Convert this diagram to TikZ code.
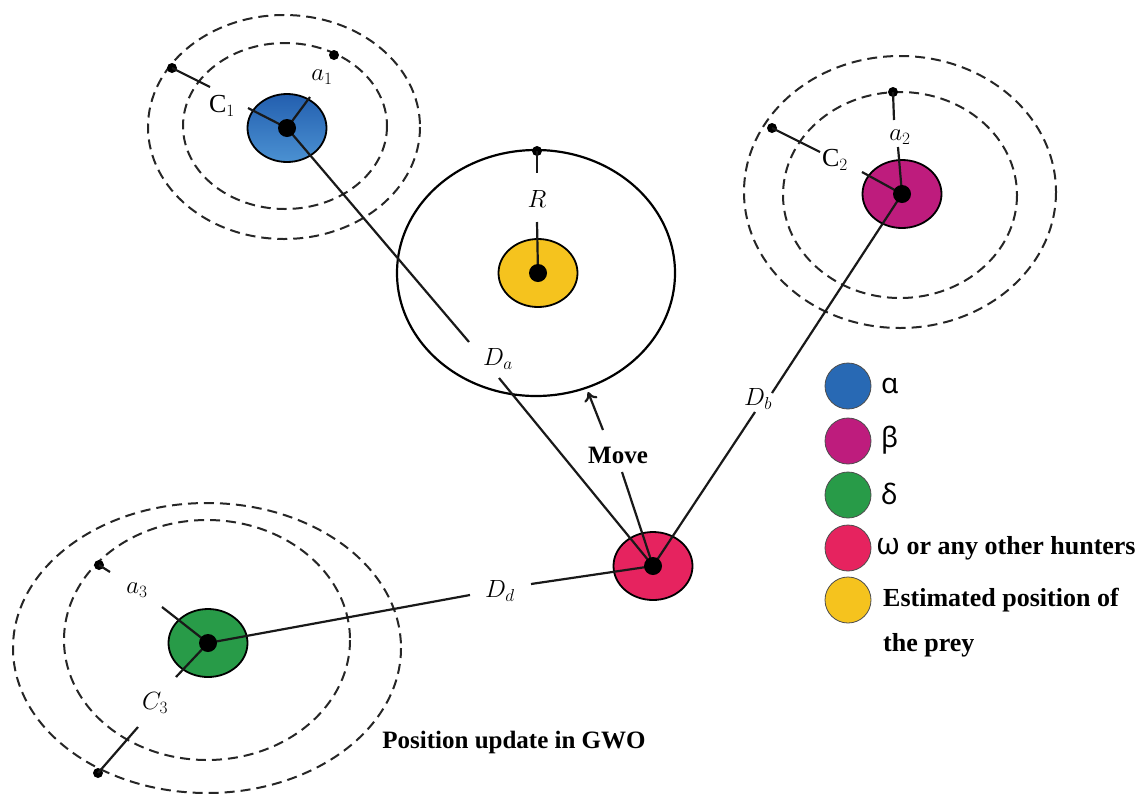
\documentclass[tikz,border=0pt]{standalone}
\usepackage{fontspec}
\setmainfont{Liberation Serif}
\newfontfamily\greekfont{Noto Sans}
\usetikzlibrary{shapes.geometric,arrows.meta}
\definecolor{alphaTop}{RGB}{35,95,175}
\definecolor{alphaBot}{RGB}{75,145,210}
\definecolor{alphaC}{RGB}{40,105,180}
\definecolor{betaC}{RGB}{190,28,125}
\definecolor{deltaC}{RGB}{40,155,72}
\definecolor{omegaC}{RGB}{230,35,95}
\definecolor{preyC}{RGB}{245,195,30}
\tikzset{
  wolf/.style={ellipse, draw=black, line width=1.8pt, minimum width=79pt, minimum height=68pt, inner sep=0pt},
  cdot/.style={circle, fill=black, minimum size=18pt, inner sep=0pt},
  odot/.style={circle, fill=black, minimum size=10pt, inner sep=0pt},
  orbit/.style={draw=black!85, line width=2pt, dash pattern=on 10pt off 6pt},
  conn/.style={draw=black!90, line width=2.2pt},
  mlabel/.style={inner sep=0pt, font=\fontsize{26}{28}\selectfont},
  blabel/.style={inner sep=0pt, font=\bfseries\fontsize{25}{28}\selectfont},
  legc/.style={circle, draw=black!70, line width=0.8pt, minimum size=46pt, inner sep=0pt},
  legt/.style={anchor=west, inner sep=0pt, font=\bfseries\fontsize{26}{28}\selectfont},
  legg/.style={anchor=west, inner sep=0pt, font=\greekfont\fontsize{28}{30}\selectfont}
}
\begin{document}
\begin{tikzpicture}[x=1pt,y=-1pt]
\useasboundingbox (0,0) rectangle (1145,801);
% orbits
\draw[orbit] (284,127) ellipse [x radius=136, y radius=112];
\draw[orbit] (285,126) ellipse [x radius=102, y radius=83];
\draw[orbit] (900,192) ellipse [x radius=156, y radius=136];
\draw[orbit] (900,195) ellipse [x radius=117, y radius=103];
\draw[orbit] (207,648) ellipse [x radius=194, y radius=145];
\draw[orbit] (207,640) ellipse [x radius=143, y radius=120];
% prey region
\draw[line width=2.2pt] (536,273) ellipse [x radius=139, y radius=123];
% wolves
\node[wolf, top color=alphaTop, bottom color=alphaBot] (alpha) at (287,128) {};
\node[wolf, fill=betaC] (beta) at (902,194) {};
\node[wolf, fill=deltaC] (delta) at (208,643) {};
\node[wolf, fill=omegaC] (omega) at (653,566) {};
\node[wolf, fill=preyC] (prey) at (538,273) {};
% orbit points
\node[odot] (p1o) at (172,68) {};
\node[odot] (p1i) at (334,55) {};
\node[odot] (p2o) at (772,128) {};
\node[odot] (p2i) at (893,92) {};
\node[odot] (p3i) at (99,565) {};
\node[odot] (p3o) at (98,773) {};
\node[odot] (pR) at (537,151) {};
% labels
\node[mlabel] (C1) at (222,106) {$\mathrm{C}_1$};
\node[mlabel] (a1) at (322,77) {$a_1$};
\node[mlabel] (C2) at (835,160) {$\mathrm{C}_2$};
\node[mlabel] (a2) at (900,137) {$a_2$};
\node[mlabel] (a3) at (137,590) {$a_3$};
\node[mlabel] (C3) at (155,703) {$C_3$};
\node[mlabel] (R) at (537,199) {$R$};
\node[mlabel] (Da) at (498,359) {$D_a$};
\node[mlabel] (Db) at (758,399) {$D_b$};
\node[mlabel] (Dd) at (500,591) {$D_d$};
\node[blabel] (move) at (618,455) {Move};
\node[blabel] (title) at (514,742) {Position update in GWO};
% break coordinates
\coordinate (c1e) at (248,108);
\coordinate (a1e) at (310,97);
\coordinate (c1o) at (210,87);
\coordinate (c2e) at (862,172);
\coordinate (a2e) at (898,147);
\coordinate (c2o) at (820,152);
\coordinate (a2o) at (894,120);
\coordinate (a3e) at (162,607);
\coordinate (c3e) at (176,677);
\coordinate (a3t) at (110,572);
\coordinate (c3t) at (138,727);
\coordinate (Re) at (537,222);
\coordinate (Ro) at (537,173);
\coordinate (da1) at (469,342);
\coordinate (da2) at (499,378);
\coordinate (db1) at (772,393);
\coordinate (db2) at (755,412);
\coordinate (dd1) at (470,595);
\coordinate (dd2) at (531,584);
\coordinate (mv1) at (622,472);
\coordinate (mvt) at (603,430);
\coordinate (mvh) at (588,392);
% connectors
\draw[conn] (alpha.center) -- (da1);
\draw[conn] (da2) -- (omega.center);
\draw[conn] (beta.center) -- (db1);
\draw[conn] (db2) -- (omega.center);
\draw[conn] (delta.center) -- (dd1);
\draw[conn] (dd2) -- (omega.center);
\draw[conn] (mv1) -- (omega.center);
\draw[conn, -{To[length=9pt,width=14pt]}] (mvt) -- (mvh);
\draw[conn] (alpha.center) -- (c1e);
\draw[conn] (alpha.center) -- (a1e);
\draw[conn] (p1o.center) -- (c1o);
\draw[conn] (beta.center) -- (c2e);
\draw[conn] (beta.center) -- (a2e);
\draw[conn] (p2o.center) -- (c2o);
\draw[conn] (p2i.center) -- (a2o);
\draw[conn] (delta.center) -- (a3e);
\draw[conn] (delta.center) -- (c3e);
\draw[conn] (p3i.center) -- (a3t);
\draw[conn] (p3o.center) -- (c3t);
\draw[conn] (prey.center) -- (Re);
\draw[conn] (pR.center) -- (Ro);
% center dots
\node[cdot] at (alpha.center) {};
\node[cdot] at (beta.center) {};
\node[cdot] at (delta.center) {};
\node[cdot] at (omega.center) {};
\node[cdot] at (prey.center) {};
% legend
\node[legc, fill=alphaC] (lA) at (848,386) {};
\node[legc, fill=betaC] (lB) at (848,441) {};
\node[legc, fill=deltaC] (lD) at (848,495) {};
\node[legc, fill=omegaC] (lO) at (848,548) {};
\node[legc, fill=preyC] (lP) at (848,600) {};
\node[legg] (tA) at (881,386) {α};
\node[legg] (tB) at (881,440) {β};
\node[legg] (tD) at (881,494) {δ};
\node[legt] (tO) at (876,548) {{\greekfont\fontsize{30}{30}\selectfont\mdseries ω} or any other hunters};
\node[legt] (tP) at (883,600) {Estimated position of};
\node[legt] (tP2) at (883,645) {the prey};
\end{tikzpicture}
\end{document}
